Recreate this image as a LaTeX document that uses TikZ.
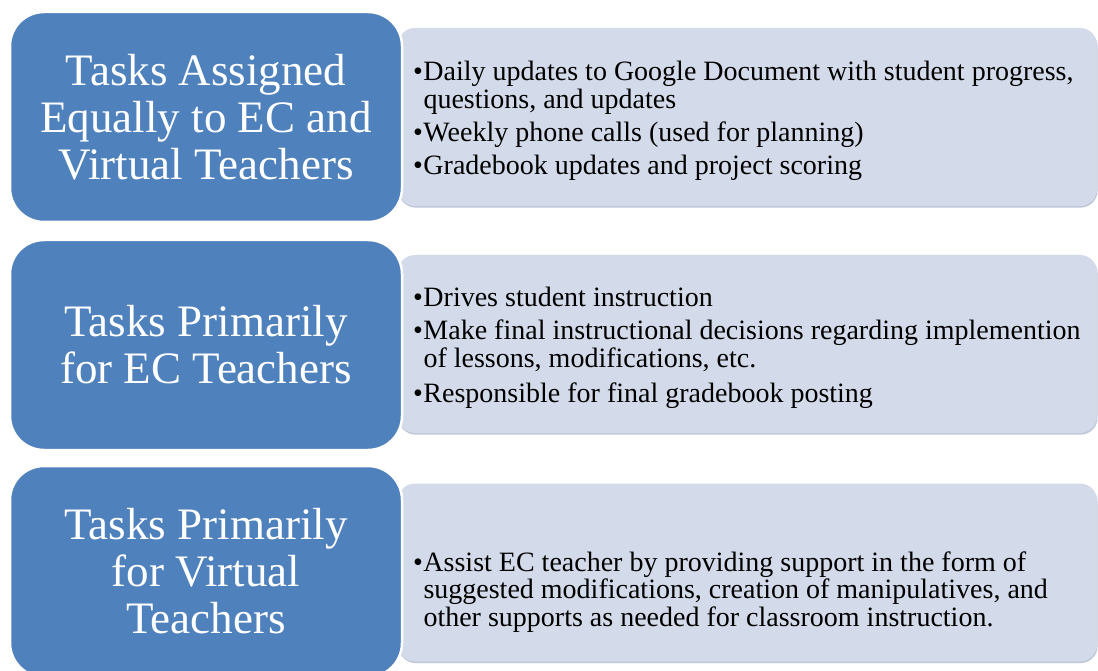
\documentclass[tikz,border=0pt]{standalone}
\usepackage{fontspec}
\setmainfont{Liberation Serif}
\usetikzlibrary{shadows}
\definecolor{blueb}{HTML}{4F81BD}
\definecolor{lightb}{HTML}{D3DAE9}
\definecolor{shadowb}{HTML}{BFC7D8}
\begin{document}
\begin{tikzpicture}[x=1pt,y=-1pt,
  headbox/.style={fill=blueb, draw=white, line width=2.5pt, rounded corners=34pt,
    minimum width=392pt, inner sep=0pt, text=white, align=center,
    font=\fontsize{45}{47}\selectfont},
  listbox/.style={fill=lightb, draw=none, rounded corners=17pt,
    minimum width=699pt, minimum height=178pt, inner sep=0pt,
    drop shadow={shadow xshift=0.6pt, shadow yshift=-1.6pt, fill=shadowb, opacity=1}},
  listtext/.style={text=black, anchor=base west, inner sep=0pt,
    font=\fontsize{28}{27}\selectfont}]
\useasboundingbox (0,0) rectangle (1098,671);
\clip (0,0) rectangle (1098,671);
\fill[white] (0,0) rectangle (1098,671);

% light list boxes
\node[listbox] (l1) at (747.5,117) {};
\node[listbox] (l2) at (747.5,344) {};
\node[listbox] (l3) at (747.5,572.5) {};

% blue heading boxes
\node[headbox, minimum height=210pt] (h1) at (206,117)
  {Tasks Assigned\\Equally to EC and\\Virtual Teachers};
\node[headbox, minimum height=210pt] (h2) at (206,345)
  {Tasks Primarily\\for EC Teachers};
\node[headbox, minimum height=211pt] (h3) at (206,571.5)
  {Tasks Primarily\\for Virtual\\Teachers};

% list texts
\node[listtext] (t1) at (413,81) {\begin{tabular}[t]{@{}l@{\hspace{0.5pt}}l@{}}
\textbullet & Daily updates to Google Document with student progress,\\
 & questions, and updates\\[5pt]
\textbullet & Weekly phone calls (used for planning)\\[6pt]
\textbullet & Gradebook updates and project scoring
\end{tabular}};
\node[listtext] (t2) at (413,306) {\begin{tabular}[t]{@{}l@{\hspace{0.5pt}}l@{}}
\textbullet & Drives student instruction\\[6pt]
\textbullet & Make final instructional decisions regarding implemention\\
 & of lessons, modifications, etc.\\[7pt]
\textbullet & Responsible for final gradebook posting
\end{tabular}};
\node[listtext] (t3) at (413,571) {\begin{tabular}[t]{@{}l@{\hspace{0.5pt}}l@{}}
\textbullet & Assist EC teacher by providing support in the form of\\
 & suggested modifications, creation of manipulatives, and\\
 & other supports as needed for classroom instruction.
\end{tabular}};
\end{tikzpicture}
\end{document}
